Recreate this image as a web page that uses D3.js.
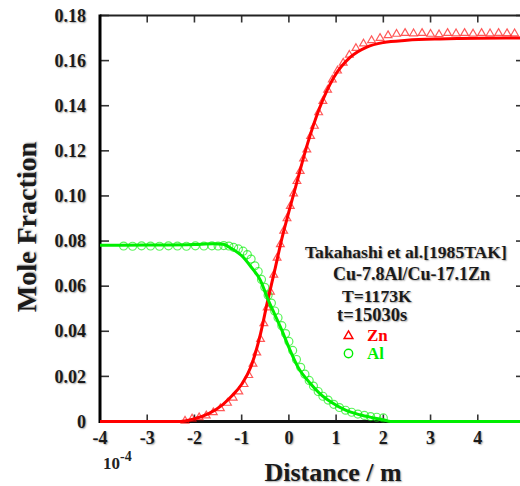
<!DOCTYPE html>
<html>
<head>
<meta charset="utf-8">
<script src="https://cdn.jsdelivr.net/npm/d3@7"></script>
<style>
  html, body { margin: 0; padding: 0; background: #fff; }
  svg { display: block; }
  text { font-family: "Liberation Serif", "Times New Roman", serif; font-weight: bold; }
  text.ink { text-shadow: 1px 1px 1.5px rgba(0,0,0,0.35); }
</style>
</head>
<body>
<svg id="chart" width="520" height="486"></svg>
<script>
// Interdiffusion profile, Cu-7.8Al / Cu-17.1Zn couple at 1173 K
const xTicks = [-4, -3, -2, -1, 0, 1, 2, 3, 4];
const yTicks = [0, 0.02, 0.04, 0.06, 0.08, 0.10, 0.12, 0.14, 0.16, 0.18];
const yTickLabels = ["0", "0.02", "0.04", "0.06", "0.08", "0.10", "0.12", "0.14", "0.16", "0.18"];

// calculated profiles (distance in 1e-4 m, mole fraction)
const znCalcX = [-4, -2.3, -2.0, -1.7, -1.4, -1.2, -1.0, -0.8, -0.6, -0.45, -0.3, -0.15, 0, 0.2, 0.4, 0.65, 0.95, 1.3, 1.65, 2.0, 2.5, 3.2, 4.0, 5.0];
const znCalcY = [0, 0, 0.0012, 0.0035, 0.0075, 0.0115, 0.0165, 0.0245, 0.039, 0.0535, 0.067, 0.081, 0.093, 0.1085, 0.1235, 0.139, 0.1525, 0.1615, 0.166, 0.168, 0.1690, 0.1696, 0.1699, 0.1700];
const alCalcX = [-4, -3, -2, -1.6, -1.4, -1.2, -1.0, -0.8, -0.6, -0.45, -0.3, -0.15, 0, 0.2, 0.45, 0.65, 0.9, 1.2, 1.5, 1.75, 2.0, 2.15, 5.0];
const alCalcY = [0.0781, 0.0782, 0.0785, 0.0788, 0.0786, 0.0765, 0.0735, 0.0685, 0.0625, 0.0545, 0.0475, 0.0405, 0.0328, 0.0238, 0.0170, 0.0125, 0.0085, 0.0050, 0.0030, 0.0018, 0.0008, 0, 0];

// measured compositions
const znExpX = [-2.2, -2.05, -1.9, -1.75, -1.6, -1.45, -1.3, -1.18, -1.06, -0.95, -0.85, -0.76, -0.68, -0.6, -0.53, -0.46, -0.39, -0.32, -0.25, -0.18, -0.11, -0.04, 0.03, 0.10, 0.17, 0.24, 0.31, 0.38, 0.46, 0.54, 0.63, 0.72, 0.82, 0.92, 1.03, 1.15, 1.28, 1.42, 1.58, 1.75, 1.93, 2.1, 2.28, 2.46, 2.64, 2.82, 3.0, 3.18, 3.36, 3.54, 3.72, 3.9, 4.08, 4.26, 4.44, 4.62, 4.78];
const znExpY = [0.0003, 0.0012, 0.0018, 0.0026, 0.0040, 0.0058, 0.0082, 0.0105, 0.0132, 0.0165, 0.0205, 0.0255, 0.0305, 0.0365, 0.0435, 0.0505, 0.0575, 0.0650, 0.0725, 0.0785, 0.0845, 0.0900, 0.0955, 0.1010, 0.1065, 0.1110, 0.1165, 0.1205, 0.1265, 0.1310, 0.1370, 0.1420, 0.1470, 0.1515, 0.1555, 0.1590, 0.1625, 0.1655, 0.1675, 0.1690, 0.1700, 0.1712, 0.1718, 0.1722, 0.1720, 0.1722, 0.1718, 0.1716, 0.1722, 0.1720, 0.1722, 0.1719, 0.1722, 0.1720, 0.1722, 0.1721, 0.1720];
const alExpX = [-3.5, -3.31, -3.12, -2.93, -2.74, -2.55, -2.36, -2.17, -1.98, -1.8, -1.63, -1.5, -1.38, -1.27, -1.17, -1.07, -0.97, -0.88, -0.8, -0.72, -0.65, -0.58, -0.51, -0.44, -0.37, -0.3, -0.23, -0.15, -0.07, 0.0, 0.08, 0.16, 0.25, 0.34, 0.43, 0.52, 0.62, 0.72, 0.83, 0.95, 1.07, 1.2, 1.33, 1.46, 1.6, 1.73, 1.86, 2.0];
const alExpY = [0.0778, 0.0777, 0.0779, 0.0778, 0.0777, 0.0779, 0.0778, 0.0777, 0.0779, 0.0778, 0.0779, 0.0778, 0.0780, 0.0778, 0.0772, 0.0765, 0.0755, 0.0740, 0.0720, 0.0690, 0.0665, 0.0630, 0.0595, 0.0560, 0.0525, 0.0490, 0.0460, 0.0425, 0.0390, 0.0355, 0.0315, 0.0275, 0.0240, 0.0210, 0.0182, 0.0157, 0.0133, 0.0112, 0.0095, 0.0076, 0.0062, 0.0050, 0.0041, 0.0033, 0.0027, 0.0022, 0.0019, 0.0016];

const infoLines = ["Takahashi et al.[1985TAK]", "Cu-7.8Al/Cu-17.1Zn", "T=1173K", "t=15030s"];
const seriesNames = ["Zn", "Al"];

const RED = "#ff0000", GREEN = "#00ee00";
const svg = d3.select("#chart");
const L = 100, R = 525, T = 15.5, B = 421.5;
const x = d3.scaleLinear().domain([-4, 5]).range([L, R]);
const y = d3.scaleLinear().domain([0, 0.18]).range([B, T]);

// frame ticks (inward)
const tickG = svg.append("g").attr("stroke", "#333").attr("stroke-width", 1.6);
xTicks.forEach(v => {
  tickG.append("line").attr("x1", x(v)).attr("x2", x(v)).attr("y1", B).attr("y2", B - 7);
  tickG.append("line").attr("x1", x(v)).attr("x2", x(v)).attr("y1", T).attr("y2", T + 7);
});
yTicks.forEach(v => {
  tickG.append("line").attr("x1", L).attr("x2", L + 9).attr("y1", y(v)).attr("y2", y(v));
  tickG.append("line").attr("x1", R).attr("x2", R - 9).attr("y1", y(v)).attr("y2", y(v));
});

// frame lines
svg.append("line").attr("x1", L).attr("x2", R).attr("y1", T).attr("y2", T).attr("stroke", "#222").attr("stroke-width", 2);
svg.append("line").attr("x1", L).attr("x2", R).attr("y1", B).attr("y2", B).attr("stroke", "#111").attr("stroke-width", 3);
svg.append("line").attr("x1", L).attr("x2", L).attr("y1", T - 1).attr("y2", B + 1.5).attr("stroke", "#000").attr("stroke-width", 3);

// tick labels
svg.append("g").selectAll("text").data(xTicks).join("text").attr("class", "ink")
  .attr("x", d => x(d)).attr("y", 444).attr("text-anchor", "middle")
  .attr("font-size", 18).attr("fill", "#1a1a1a").text(d => d);
svg.append("g").selectAll("text").data(yTicks).join("text").attr("class", "ink")
  .attr("x", 86).attr("y", d => y(d)).attr("dy", "0.34em").attr("text-anchor", "end")
  .attr("font-size", 18).attr("fill", "#1a1a1a").text((d, i) => yTickLabels[i]);

// axis titles
svg.append("text").attr("class", "ink").attr("transform", "translate(36,227) rotate(-90)")
  .attr("text-anchor", "middle").attr("font-size", 28).attr("fill", "#1a1a1a").text("Mole Fraction");
svg.append("text").attr("class", "ink").attr("x", 333).attr("y", 481).attr("text-anchor", "middle")
  .attr("font-size", 26).attr("fill", "#1a1a1a").text("Distance / m");
const ex = svg.append("text").attr("x", 103).attr("y", 469).attr("font-size", 17).attr("font-weight", "normal").attr("fill", "#222");
ex.append("tspan").text("10");
ex.append("tspan").attr("dy", -8).attr("font-size", 14).text("-4");

// measured points
const pts = svg.append("g").attr("fill", "none").attr("stroke-width", 1.2);
const tri = d3.symbol().type(d3.symbolTriangle).size(26);
const circ = d3.symbol().type(d3.symbolCircle).size(50);
pts.selectAll("path.zn").data(znExpX).join("path").attr("class", "zn")
  .attr("d", tri).attr("transform", (d, i) => `translate(${x(d)},${y(znExpY[i])})`)
  .attr("stroke", RED).attr("stroke-opacity", 0.65);
pts.selectAll("path.al").data(alExpX).join("path").attr("class", "al")
  .attr("d", circ).attr("transform", (d, i) => `translate(${x(d)},${y(alExpY[i])})`)
  .attr("stroke", GREEN).attr("stroke-opacity", 0.65);

// calculated curves
const line = d3.line().curve(d3.curveMonotoneX);
svg.append("path").attr("d", line(znCalcX.map((v, i) => [x(v), y(znCalcY[i])])))
  .attr("fill", "none").attr("stroke", RED).attr("stroke-width", 3);
svg.append("path").attr("d", line(alCalcX.map((v, i) => [x(v), y(alCalcY[i])])))
  .attr("fill", "none").attr("stroke", GREEN).attr("stroke-width", 3);

// annotation block
const info = [[305, 257.5, 17.6], [333, 280, 18], [342, 301.5, 17.6], [337, 320.5, 18.5]];
infoLines.forEach((s, i) => {
  svg.append("text").attr("class", "ink").attr("x", info[i][0]).attr("y", info[i][1]).attr("font-size", info[i][2])
    .attr("fill", "#1a1a1a").text(s);
});

// legend
svg.append("path").attr("d", d3.symbol().type(d3.symbolTriangle).size(34))
  .attr("transform", `translate(348.5,336)`).attr("fill", "none").attr("stroke", RED).attr("stroke-width", 1.4);
svg.append("path").attr("d", d3.symbol().type(d3.symbolCircle).size(55))
  .attr("transform", `translate(348.5,353.5)`).attr("fill", "none").attr("stroke", GREEN).attr("stroke-width", 1.4);
svg.append("text").attr("x", 367).attr("y", 340.5).attr("font-size", 17).attr("fill", RED).text(seriesNames[0]);
svg.append("text").attr("x", 367).attr("y", 358.5).attr("font-size", 17).attr("fill", GREEN).text(seriesNames[1]);
</script>
</body>
</html>
